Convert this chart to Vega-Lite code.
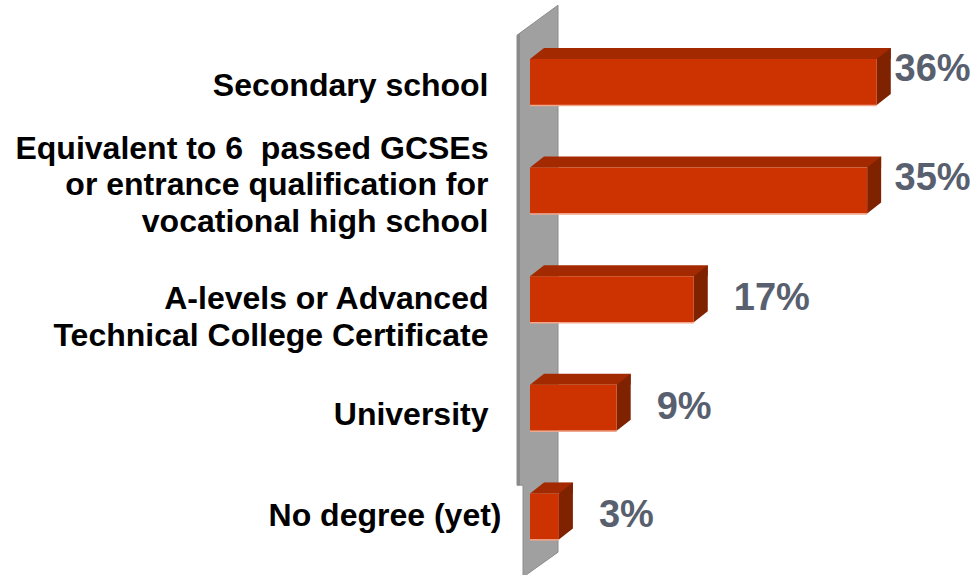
{
  "$schema": "https://vega.github.io/schema/vega-lite/v6.json",
  "width": 446,
  "height": 543,
  "autosize": {"type": "none"},
  "padding": {"left": 530, "top": 27.7, "right": 0, "bottom": 4.3},
  "background": "white",
  "config": {"view": {"stroke": null}},
  "data": {
    "values": [
      {"category": "Secondary school", "value": 0.36},
      {"category": "Equivalent to 6  passed GCSEs|or entrance qualification for|vocational high school", "value": 0.35},
      {"category": "A-levels or Advanced|Technical College Certificate", "value": 0.17},
      {"category": "University", "value": 0.09},
      {"category": "No degree (yet)", "value": 0.03}
    ]
  },
  "layer": [
    {
      "layer": [
        {
          "data": {"values": [{"element": "wall"}]},
          "mark": {"type": "point", "shape": "M-13,-264 L28,-294 L28,253 L-7,278 L-7,186 L-13,186 Z", "size": 4, "filled": true, "opacity": 1, "color": "#a0a0a0", "stroke": "#8c8c8c", "strokeWidth": 1},
          "encoding": {"x": {"datum": 0, "type": "quantitative", "scale": {"domain": [0, 0.463], "nice": false, "zero": true}, "axis": null}}
        },
        {
          "data": {"values": [{"element": "wall"}]},
          "mark": {"type": "point", "shape": "M-13,-264 L-10,-266 L-10,186 L-13,186 Z", "size": 4, "filled": true, "opacity": 1, "color": "#8a8a8a", "strokeWidth": 0},
          "encoding": {"x": {"datum": 0, "type": "quantitative"}}
        },
        {
          "mark": {"type": "bar", "size": 11, "yOffset": -28.5, "xOffset": 14, "color": "#a32a00"},
          "encoding": {
            "y": {"field": "category", "type": "nominal", "sort": null, "scale": {"paddingInner": 0, "paddingOuter": 0}, "axis": {
              "title": null, "domain": false, "ticks": false, "grid": false,
              "labelPadding": {"condition": {"test": "datum.value == 'No degree (yet)'", "value": 29}, "value": 42},
              "labelOffset": {"condition": [
                {"test": "datum.value == 'Secondary school'", "value": 4},
                {"test": "indexof(datum.value, 'GCSEs') >= 0", "value": -42},
                {"test": "datum.value == 'University'", "value": 7}
              ], "value": 0},
              "labelFont": "Liberation Sans", "labelFontWeight": "bold", "labelFontSize": 32, "labelColor": "#000000", "labelLimit": 0, "labelLineHeight": 36.5, "labelAlign": "right", "labelBaseline": "middle", "labelExpr": "split(replace(datum.label, '  ', '\u00a0 '), '|')"}},
            "x": {"field": "value", "type": "quantitative"}
          }
        },
        {
          "mark": {"type": "point", "shape": "M0,-23 L14,-34 L14,-23 Z", "size": 4, "filled": true, "opacity": 1, "color": "#a32a00", "strokeWidth": 0},
          "encoding": {
            "y": {"field": "category", "type": "nominal", "sort": null},
            "x": {"datum": 0, "type": "quantitative"}
          }
        },
        {
          "mark": {"type": "point", "shape": "M0,-23 L14,-34 L14,12 L0,23 Z", "size": 4, "filled": true, "opacity": 1, "color": "#7f2200", "strokeWidth": 0},
          "encoding": {
            "y": {"field": "category", "type": "nominal", "sort": null},
            "x": {"field": "value", "type": "quantitative"}
          }
        },
        {
          "mark": {"type": "bar", "size": 46, "color": "#cc3300"},
          "encoding": {
            "y": {"field": "category", "type": "nominal", "sort": null},
            "x": {"field": "value", "type": "quantitative"}
          }
        },
        {
          "mark": {"type": "bar", "size": 1.5, "yOffset": 23.5, "color": "#f2a68c"},
          "encoding": {
            "y": {"field": "category", "type": "nominal", "sort": null},
            "x": {"field": "value", "type": "quantitative"}
          }
        },
        {
          "transform": [{"filter": "datum.value < 0.3"}],
          "mark": {"type": "text", "align": "left", "baseline": "middle", "dx": 40, "font": "Liberation Sans", "fontWeight": "bold", "fontSize": 38, "color": "#58606f"},
          "encoding": {
            "y": {"field": "category", "type": "nominal", "sort": null},
            "x": {"field": "value", "type": "quantitative"},
            "text": {"field": "value", "type": "quantitative", "format": ".0%"}
          }
        }
      ]
    },
    {
      "transform": [{"filter": "datum.value >= 0.3"}],
      "mark": {"type": "text", "align": "left", "baseline": "middle", "dx": 40, "dy": -12, "font": "Liberation Sans", "fontWeight": "bold", "fontSize": 38, "color": "#58606f"},
      "encoding": {
        "y": {"field": "category", "type": "nominal", "sort": null},
        "x": {"field": "value", "type": "quantitative", "scale": {"domain": [0, 0.337], "range": [0, 324.5], "clamp": true, "nice": false, "zero": true}, "axis": null},
        "text": {"field": "value", "type": "quantitative", "format": ".0%"}
      }
    }
  ],
  "resolve": {"scale": {"x": "independent"}}
}
